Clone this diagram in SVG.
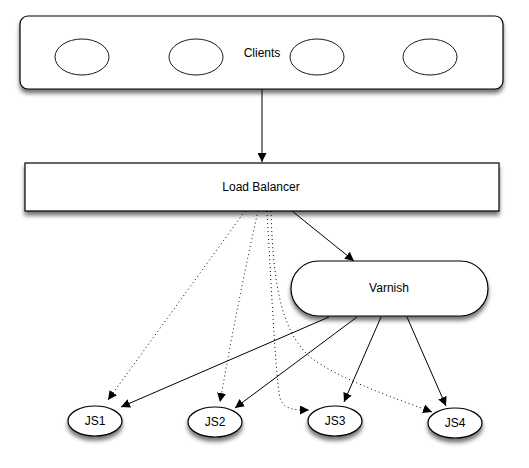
<svg xmlns="http://www.w3.org/2000/svg" width="529" height="468" viewBox="0 0 529 468">
<style>
.shape{fill:#fff;stroke:#000;stroke-width:1.2}
.inner{fill:#fff;stroke:#000;stroke-width:0.9}
.lbl{font-family:"Liberation Sans",Arial,sans-serif;font-size:12px;fill:#000;text-anchor:middle}
.solid{fill:none;stroke:#000;stroke-width:1}
.dot{fill:none;stroke:#000;stroke-width:1;stroke-dasharray:1 3}
</style>
<defs>
<filter id="sh" x="-20%" y="-30%" width="140%" height="170%">
<feGaussianBlur in="SourceAlpha" stdDeviation="2"/>
<feOffset dx="0" dy="4" result="b"/>
<feComponentTransfer><feFuncA type="linear" slope="0.55"/></feComponentTransfer>
<feMerge><feMergeNode/><feMergeNode in="SourceGraphic"/></feMerge>
</filter>
<marker id="ah" viewBox="0 0 10 10" refX="10" refY="5" markerWidth="9" markerHeight="9" markerUnits="userSpaceOnUse" orient="auto">
<path d="M0,0 L10,5 L0,10 z" fill="#000"/>
</marker>
</defs>
<g id="clients">
<rect class="shape" x="20" y="16" width="483" height="73" rx="8" filter="url(#sh)"/>
<ellipse class="inner" cx="82" cy="57" rx="27" ry="18"/>
<ellipse class="inner" cx="196" cy="57" rx="27" ry="18"/>
<ellipse class="inner" cx="317" cy="57" rx="27" ry="18"/>
<ellipse class="inner" cx="430" cy="57" rx="27" ry="18"/>
<text class="lbl" x="262" y="57">Clients</text>
</g>
<g id="loadbalancer">
<rect class="shape" x="25" y="163" width="474" height="48" filter="url(#sh)"/>
<text class="lbl" x="261" y="191">Load Balancer</text>
</g>
<g id="varnish">
<rect class="shape" x="291" y="261" width="197" height="55" rx="27.5" filter="url(#sh)"/>
<text class="lbl" x="389" y="292">Varnish</text>
</g>
<g id="js1">
<ellipse class="shape" cx="95" cy="421" rx="27" ry="15" filter="url(#sh)"/>
<text class="lbl" x="95" y="425">JS1</text>
</g>
<g id="js2">
<ellipse class="shape" cx="215" cy="422" rx="27" ry="15" filter="url(#sh)"/>
<text class="lbl" x="215" y="426">JS2</text>
</g>
<g id="js3">
<ellipse class="shape" cx="335" cy="421" rx="27" ry="15" filter="url(#sh)"/>
<text class="lbl" x="335" y="425">JS3</text>
</g>
<g id="js4">
<ellipse class="shape" cx="455" cy="423" rx="27" ry="15" filter="url(#sh)"/>
<text class="lbl" x="455" y="427">JS4</text>
</g>
<g id="connectors">
<line class="solid" x1="262" y1="89" x2="262" y2="162" marker-end="url(#ah)"/>
<line class="solid" x1="292" y1="211" x2="354" y2="261" marker-end="url(#ah)"/>
<line class="solid" x1="329" y1="317" x2="121" y2="407" marker-end="url(#ah)"/>
<line class="solid" x1="357" y1="317" x2="235" y2="408" marker-end="url(#ah)"/>
<line class="solid" x1="381" y1="317" x2="344" y2="402" marker-end="url(#ah)"/>
<line class="solid" x1="407" y1="317" x2="446" y2="406" marker-end="url(#ah)"/>
<path class="dot" d="M245,211 L108,400" marker-end="url(#ah)"/>
<path class="dot" d="M258,211 Q238,300 220,402" marker-end="url(#ah)"/>
<path class="dot" d="M267,211 C272,300 276,380 280,398 C284,410 295,410 309,410" marker-end="url(#ah)"/>
<path class="dot" d="M271,211 C273,280 280,330 310,357 C340,380 400,400 432,412" marker-end="url(#ah)"/>
</g>
</svg>
